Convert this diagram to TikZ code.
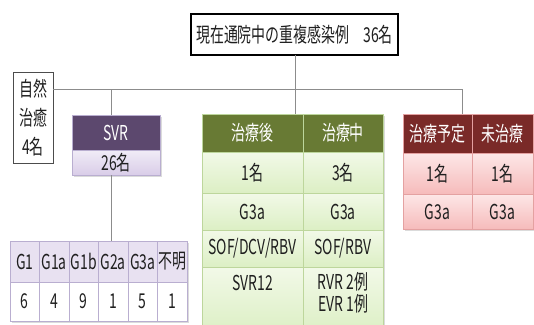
\documentclass[tikz,border=0pt]{standalone}
\usepackage{fontspec}
\setmainfont{Noto Sans CJK JP}[FakeStretch=0.68]
\definecolor{linegray}{HTML}{8C8C8C}
\definecolor{purpH}{HTML}{5C486E}
\definecolor{purpT}{HTML}{F1ECF7}
\definecolor{purpB}{HTML}{D9CDE8}
\definecolor{purpL}{HTML}{E8E1F1}
\definecolor{purpE}{HTML}{B9AED0}
\definecolor{grnH}{HTML}{687A34}
\definecolor{grnT}{HTML}{F2F9E8}
\definecolor{grnB}{HTML}{DCEFC4}
\definecolor{grnE}{HTML}{BDD69C}
\definecolor{redH}{HTML}{7A2A28}
\definecolor{redT}{HTML}{FDE7E7}
\definecolor{redB}{HTML}{F6BBBB}
\definecolor{redE}{HTML}{E4A1A1}
\definecolor{shad}{HTML}{B0B0B0}
\begin{document}
\begin{tikzpicture}[x=1pt,y=-1pt,
  every node/.style={inner sep=0pt, outer sep=0pt, font=\fontsize{20.5}{29}\selectfont, text=black!88},
  conn/.style={draw=linegray, line width=0.9pt},
  cellbase/.style={anchor=north west, line width=0.8pt},
  pH/.style={cellbase, draw=purpE, fill=purpH, text=white},
  pR/.style={cellbase, draw=purpE, top color=purpT, bottom color=purpB},
  pL/.style={cellbase, draw=purpE, fill=purpL},
  pW/.style={cellbase, draw=purpE, fill=white},
  gH/.style={cellbase, draw=grnE, fill=grnH, text=white},
  gR/.style={cellbase, draw=grnE, top color=grnT, bottom color=grnB},
  rH/.style={cellbase, draw=redE, fill=redH, text=white},
  rR/.style={cellbase, draw=redE, top color=redT, bottom color=redB},
  shadowbox/.style={fill=shad, opacity=0.45}
]
\clip (0,0) rectangle (534,324);
\fill[white] (0,0) rectangle (534,324);

% title
\node[draw=black, line width=1.2pt, fill=white, minimum width=207pt, minimum height=41pt, anchor=north west] (title) at (191,14) {現在通院中の重複感染例　36名};

% natural cure
\node[draw=black!70, line width=0.8pt, fill=white, minimum width=40pt, minimum height=91pt, anchor=north west, align=center] (nat) at (13,72) {自然\\治癒\\4名};

% shadows
\fill[shadowbox] (74,117) rectangle (162,177);
\fill[shadowbox] (12,243) rectangle (189,323);
\fill[shadowbox] (204,116) rectangle (385,330);
\fill[shadowbox] (405,116) rectangle (535,231);

% SVR box
\node[pH, minimum width=88pt, minimum height=35pt] (svrh) at (72,115) {SVR};
\node[pR, minimum width=88pt, minimum height=25pt] (svrn) at (72,150) {26名};

% genotype table
\node[pL, minimum width=29.5pt, minimum height=41pt] (t1) at (10,241) {G1};
\node[pL, minimum width=29.5pt, minimum height=41pt] (t2) at (39.5,241) {G1a};
\node[pL, minimum width=29.5pt, minimum height=41pt] (t3) at (69,241) {G1b};
\node[pL, minimum width=29.5pt, minimum height=41pt] (t4) at (98.5,241) {G2a};
\node[pL, minimum width=29.5pt, minimum height=41pt] (t5) at (128,241) {G3a};
\node[pL, minimum width=29.5pt, minimum height=41pt] (t6) at (157.5,241) {不明};
\node[pW, minimum width=29.5pt, minimum height=39pt] (v1) at (10,282) {6};
\node[pW, minimum width=29.5pt, minimum height=39pt] (v2) at (39.5,282) {4};
\node[pW, minimum width=29.5pt, minimum height=39pt] (v3) at (69,282) {9};
\node[pW, minimum width=29.5pt, minimum height=39pt] (v4) at (98.5,282) {1};
\node[pW, minimum width=29.5pt, minimum height=39pt] (v5) at (128,282) {5};
\node[pW, minimum width=29.5pt, minimum height=39pt] (v6) at (157.5,282) {1};

% green table
\node[gH, minimum width=101pt, minimum height=38pt] (ga0) at (202,114) {治療後};
\node[gH, minimum width=80pt, minimum height=38pt] (gb0) at (303,114) {治療中};
\node[gR, minimum width=101pt, minimum height=41pt] (ga1) at (202,152) {1名};
\node[gR, minimum width=80pt, minimum height=41pt] (gb1) at (303,152) {3名};
\node[gR, minimum width=101pt, minimum height=37pt] (ga2) at (202,193) {G3a};
\node[gR, minimum width=80pt, minimum height=37pt] (gb2) at (303,193) {G3a};
\node[gR, minimum width=101pt, minimum height=37pt] (ga3) at (202,230) {SOF/DCV/RBV};
\node[gR, minimum width=80pt, minimum height=37pt] (gb3) at (303,230) {SOF/RBV};
\node[gR, minimum width=101pt, minimum height=66pt] (ga4) at (202,267) {};
\node[gR, minimum width=80pt, minimum height=66pt] (gb4) at (303,267) {};
\node[anchor=center] (ga4t) at (252.5,283) {SVR12};
\node[anchor=north, align=center, font=\fontsize{20.5}{22}\selectfont] (gb4t) at (343,272) {RVR 2例\\EVR 1例};

% red table
\node[rH, minimum width=69pt, minimum height=39pt] (ra0) at (403,114) {治療予定};
\node[rH, minimum width=61pt, minimum height=39pt] (rb0) at (472,114) {未治療};
\node[rR, minimum width=69pt, minimum height=41pt] (ra1) at (403,153) {1名};
\node[rR, minimum width=61pt, minimum height=41pt] (rb1) at (472,153) {1名};
\node[rR, minimum width=69pt, minimum height=35pt] (ra2) at (403,194) {G3a};
\node[rR, minimum width=61pt, minimum height=35pt] (rb2) at (472,194) {G3a};

% connectors
\coordinate (jc) at (295,89);
\coordinate (js) at (111,89);
\coordinate (jr) at (462,89);
\draw[conn] (title.south -| jc) -- (jc);
\draw[conn] (nat.east |- jc) -- (jr);
\draw[conn] (js) -- (js |- svrh.north);
\draw[conn] (jc) -- (jc |- ga0.north);
\draw[conn] (jr) -- (jr |- ra0.north);
\draw[conn] (svrn.south -| js) -- (js |- t4.north);
\end{tikzpicture}
\end{document}
